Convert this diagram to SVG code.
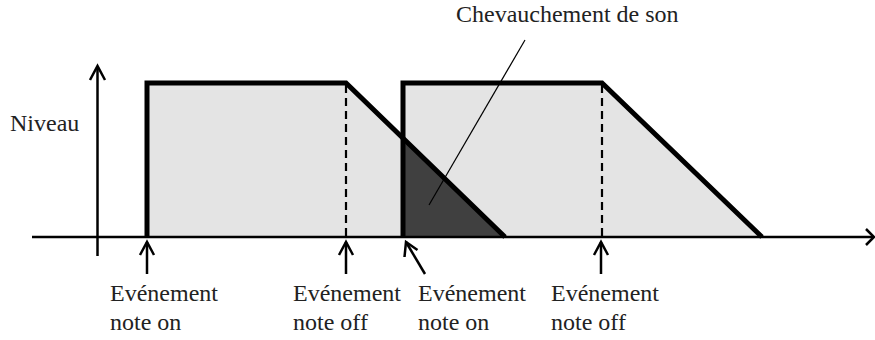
<svg xmlns="http://www.w3.org/2000/svg" width="875" height="340" viewBox="0 0 875 340">
  <style>
    .axis { stroke: #000; stroke-width: 2.5; fill: none; }
    .head { stroke: #000; stroke-width: 2.5; fill: none; stroke-linejoin: miter; }
    .env { stroke: #000; stroke-width: 5; fill: none; stroke-linejoin: miter; }
    .fill { fill: #e4e4e4; stroke: none; }
    .dash { stroke: #000; stroke-width: 2.2; stroke-dasharray: 8 5; fill: none; }
    .ptr { stroke: #000; stroke-width: 2.5; fill: none; }
  </style>
  <rect width="875" height="340" fill="#fff"/>
  <g id="envelope1">
    <polygon class="fill" points="147,237 147,83 346,83 505,237"/>
  </g>
  <g id="envelope2">
    <polygon class="fill" points="403,237 403,83 602,83 762,237"/>
  </g>
  <g id="overlap">
    <polygon points="403,237 403,138 505,237" fill="#404040"/>
  </g>
  <g id="connectors">
    <line class="dash" x1="346" y1="85" x2="346" y2="237"/>
    <line class="dash" x1="602" y1="85" x2="602" y2="237"/>
    <path class="env" d="M147,237 V83 H346 L505,237"/>
    <path class="env" d="M403,237 V83 H602 L762,237"/>
    <line class="axis" x1="32" y1="237" x2="873" y2="237"/>
    <path class="head" d="M866,229 L874,237 L866,245"/>
    <line class="axis" x1="97.5" y1="256" x2="97.5" y2="66"/>
    <path class="head" d="M90,80 L97.5,66 L105,80"/>
    <line class="ptr" x1="147" y1="274" x2="147" y2="242"/>
    <path class="head" d="M140,255 L147,242 L154,255"/>
    <line class="ptr" x1="346" y1="274" x2="346" y2="242"/>
    <path class="head" d="M339,255 L346,242 L353,255"/>
    <line class="ptr" x1="601" y1="274" x2="601" y2="242"/>
    <path class="head" d="M594,255 L601,242 L608,255"/>
    <line class="ptr" x1="425" y1="274" x2="406" y2="242"/>
    <path class="head" d="M404.5,257 L406,242 L417.5,250"/>
    <line x1="525" y1="40" x2="429" y2="205" stroke="#000" stroke-width="1.2"/>
  </g>
  <g id="labels">
    <text x="10" y="131" font-family="Liberation Serif" font-size="24" fill="#222">Niveau</text>
    <text x="456" y="22" font-family="Liberation Serif" font-size="24" fill="#222">Chevauchement de son</text>
    <text x="110" y="301" font-family="Liberation Serif" font-size="24" fill="#222">Evénement</text>
    <text x="110" y="330" font-family="Liberation Serif" font-size="24" fill="#222">note on</text>
    <text x="293" y="301" font-family="Liberation Serif" font-size="24" fill="#222">Evénement</text>
    <text x="293" y="330" font-family="Liberation Serif" font-size="24" fill="#222">note off</text>
    <text x="418" y="301" font-family="Liberation Serif" font-size="24" fill="#222">Evénement</text>
    <text x="418" y="330" font-family="Liberation Serif" font-size="24" fill="#222">note on</text>
    <text x="551" y="301" font-family="Liberation Serif" font-size="24" fill="#222">Evénement</text>
    <text x="551" y="330" font-family="Liberation Serif" font-size="24" fill="#222">note off</text>
  </g>
</svg>
